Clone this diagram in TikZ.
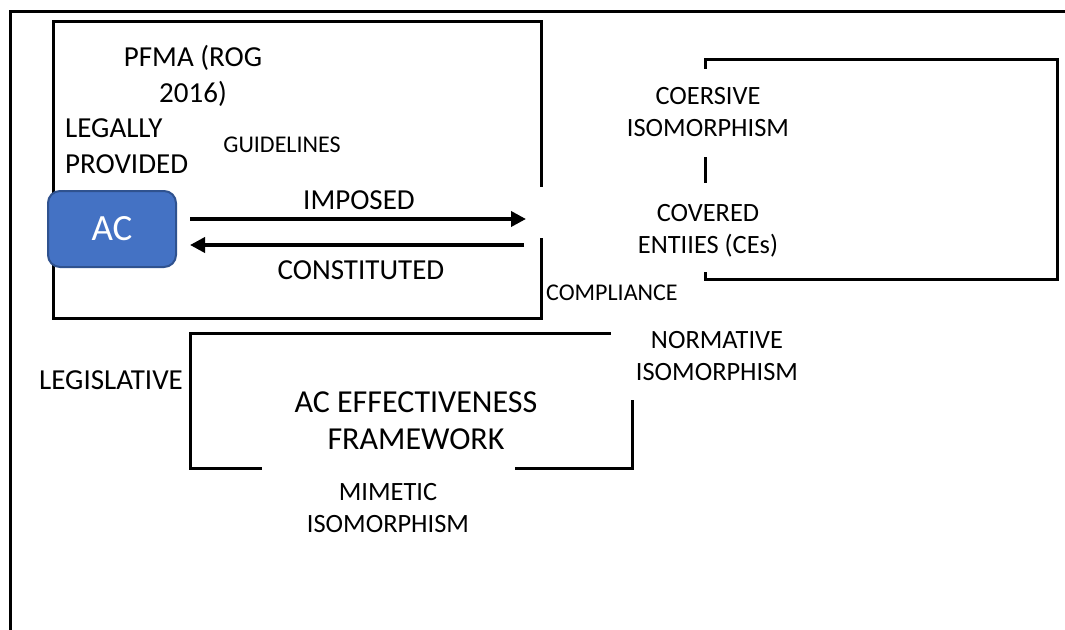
\documentclass[tikz,border=0pt]{standalone}
\usepackage{fontspec}
\setmainfont{Carlito}
\usetikzlibrary{arrows.meta}
\definecolor{acfill}{HTML}{4472C4}
\definecolor{acedge}{HTML}{2F528F}
\begin{document}
\begin{tikzpicture}[x=1pt,y=-1pt,
  frame/.style={line width=3pt,line cap=rect},
  flow/.style={line width=3.6pt,-{Triangle[length=15pt,width=15pt]}},
  big/.style={inner sep=0pt,font=\fontsize{29}{36}\selectfont},
  mid/.style={inner sep=0pt,font=\fontsize{26.4}{32}\selectfont,align=center},
  small/.style={inner sep=0pt,font=\fontsize{24}{29}\selectfont},
  acbox/.style={draw=acedge,fill=acfill,line width=2pt,rounded corners=12pt,
    minimum width=128pt,minimum height=76pt,inner sep=0pt,text=white,
    font=\fontsize{37}{44}\selectfont}]
\useasboundingbox (0,0) rectangle (1065,629);
\begin{scope}
\clip (0,0) rectangle (1065,629);
% outer frame, running off the page to the right and bottom
\draw[frame] (1080,11) -- (10,11) -- (10,650);
\end{scope}

% upper box (legal setting), open on the right for the arrows
\draw[frame] (541,185) -- (541,21) -- (53.6,21) -- (53.6,318) -- (541,318) -- (541,239);
% covered entities box, open on the left
\draw[frame] (705,67) -- (705,59) -- (1057,59) -- (1057,279) -- (705,279) -- (705,273);
% framework box, open at the lower middle and upper right
\draw[frame] (260,468) -- (190,468) -- (190,333) -- (609,333);
\draw[frame] (632,401) -- (632,468) -- (516,468);

% audit committee
\node[acbox] (ac) at (112,229) {AC};

% labels
\node[big,align=center] (pfma) at (193,76) {PFMA (ROG\\2016)};
\node[big,align=left,anchor=west] (legal) at (65,146.5) {LEGALLY\\PROVIDED};
\node[small] (guide) at (282,145) {GUIDELINES};
\node[big] (imposed) at (359,200) {IMPOSED};
\node[big] (constituted) at (361,270) {CONSTITUTED};
\node[mid] (coersive) at (708,112) {COERSIVE\\ISOMORPHISM};
\node[mid] (ces) at (708,231) {COVERED\\ENTIIES (CEs)};
\node[small,anchor=west] (compliance) at (546,293) {COMPLIANCE};
\node[mid] (normative) at (717,356.5) {NORMATIVE\\ISOMORPHISM};
\node[big,anchor=west] (legislative) at (39,380) {LEGISLATIVE};
\node[inner sep=0pt,align=center,font=\fontsize{32}{37}\selectfont] (acef) at (416,420.5) {AC EFFECTIVENESS\\FRAMEWORK};
\node[mid] (mimetic) at (388,508) {MIMETIC\\ISOMORPHISM};

% link between coercive isomorphism and the covered entities
\coordinate (cx1) at (705,157);
\coordinate (cx2) at (705,183);
\draw[line width=3pt] (cx1) -- (cx2);

% imposed / constituted arrows
\coordinate (impEnd) at (526,219);
\coordinate (conStart) at (524,245);
\draw[flow,shorten <=13pt] (ac.east |- impEnd) -- (impEnd);
\draw[flow,shorten >=13pt] (conStart) -- (ac.east |- conStart);
\end{tikzpicture}
\end{document}
